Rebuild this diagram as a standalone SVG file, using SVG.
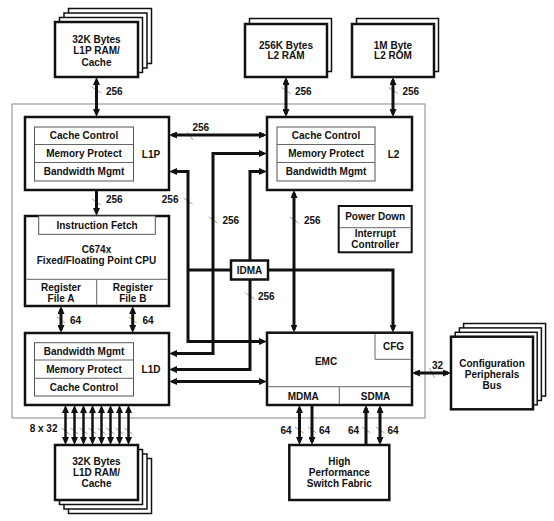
<svg xmlns="http://www.w3.org/2000/svg" width="554" height="521" viewBox="0 0 554 521">
<style>
text{font-family:"Liberation Sans",Arial,sans-serif;font-weight:bold;font-size:10px;fill:#111;}
.c{text-anchor:middle;}
.e{text-anchor:end;}
.blk{fill:#fff;stroke:#111;stroke-width:2.5;}
.bk{fill:#fff;stroke:#111;stroke-width:1.5;}
.tbl{fill:#fff;stroke:#555;stroke-width:1;}
.dv{stroke:#666;stroke-width:1;fill:none;}
.frame{fill:none;stroke:#888;stroke-width:1;}
.w{fill:none;stroke:#111;stroke-width:3;stroke-linejoin:miter;}
.w2{fill:none;stroke:#111;stroke-width:2.5;}
.bi{marker-start:url(#ah);marker-end:url(#ah);}
.one{marker-end:url(#ah);}
.tk{stroke:#888;stroke-width:0.8;}
</style>
<defs>
<marker id="ah" viewBox="0 0 8 7" markerWidth="8" markerHeight="7" refX="5" refY="3.5" markerUnits="userSpaceOnUse" orient="auto-start-reverse">
<path d="M0,0 L8,3.5 L0,7 z" fill="#111"/>
</marker>
</defs>
<rect width="554" height="521" fill="#fff"/>
<rect class="frame" x="12" y="104" width="413" height="314"/>

<g id="ticks">
<line class="tk" x1="92" y1="87" x2="101" y2="93"/>
<line class="tk" x1="281.5" y1="87.5" x2="290.5" y2="93.5"/>
<line class="tk" x1="388.5" y1="87.5" x2="397.5" y2="93.5"/>
<line class="tk" x1="187" y1="132" x2="193" y2="140"/>
<line class="tk" x1="92" y1="199" x2="101" y2="205"/>
<line class="tk" x1="183.5" y1="198" x2="192.5" y2="204"/>
<line class="tk" x1="208.5" y1="217" x2="217.5" y2="223"/>
<line class="tk" x1="289.5" y1="217" x2="298.5" y2="223"/>
<line class="tk" x1="245.5" y1="293" x2="254.5" y2="299"/>
<line class="tk" x1="57" y1="317" x2="65" y2="323"/>
<line class="tk" x1="128.7" y1="317" x2="136.7" y2="323"/>
<line class="tk" x1="61.5" y1="428" x2="69.5" y2="434"/>
<line class="tk" x1="70.5" y1="428" x2="78.5" y2="434"/>
<line class="tk" x1="79.5" y1="428" x2="87.5" y2="434"/>
<line class="tk" x1="88.5" y1="428" x2="96.5" y2="434"/>
<line class="tk" x1="97.5" y1="428" x2="105.5" y2="434"/>
<line class="tk" x1="106.5" y1="428" x2="114.5" y2="434"/>
<line class="tk" x1="115.5" y1="428" x2="123.5" y2="434"/>
<line class="tk" x1="124.5" y1="428" x2="132.5" y2="434"/>
<line class="tk" x1="429.5" y1="368" x2="434.5" y2="378"/>
<line class="tk" x1="295" y1="427" x2="303.5" y2="433"/>
<line class="tk" x1="308" y1="427" x2="316.5" y2="433"/>
<line class="tk" x1="362" y1="427" x2="370.5" y2="433"/>
<line class="tk" x1="376" y1="427" x2="384.5" y2="433"/>
</g>

<g id="connectors">
<path class="w bi" d="M96.5,80 V114"/>
<path class="w bi" d="M286,80 V114"/>
<path class="w bi" d="M393,80 V114"/>
<path class="w bi" d="M172,135 H264"/>
<path class="w one" d="M96.5,190 V213"/>
<path class="w bi" d="M172,171.5 H188 V341.5 H264"/>
<path class="w bi" d="M172,353.5 H213 V153.5 H264"/>
<path class="w bi" d="M172,369.5 H250 V171.5 H264"/>
<path class="w bi" d="M172,381.5 H264"/>
<path class="w bi" d="M294,193 V329.5"/>
<path class="w" d="M188,270 H231"/>
<path class="w one" d="M268,270 H393 V329.5"/>
<path class="w bi" d="M61,309 V330"/>
<path class="w bi" d="M132.7,309 V330"/>
<path class="w2 bi" d="M65.5,408 V442"/>
<path class="w2 bi" d="M74.5,408 V442"/>
<path class="w2 bi" d="M83.5,408 V442"/>
<path class="w2 bi" d="M92.5,408 V442"/>
<path class="w2 bi" d="M101.5,408 V442"/>
<path class="w2 bi" d="M110.5,408 V442"/>
<path class="w2 bi" d="M119.5,408 V442"/>
<path class="w2 bi" d="M128.5,408 V442"/>
<path class="w bi" d="M415,373 H448"/>
<path class="w bi" d="M299.5,408 V442"/>
<path class="w one" d="M312,405 V442"/>
<path class="w one" d="M366,445 V408"/>
<path class="w bi" d="M380,408 V442"/>
</g>

<g id="labels">
<text x="106" y="95">256</text>
<text x="295" y="95">256</text>
<text x="402.5" y="95">256</text>
<text x="192.5" y="131">256</text>
<text x="106" y="203">256</text>
<text class="e" x="178.5" y="203">256</text>
<text x="222.5" y="223.5">256</text>
<text x="304" y="223.5">256</text>
<text x="258" y="299.5">256</text>
<text x="70" y="324">64</text>
<text x="142.5" y="324">64</text>
<text class="e" x="57.5" y="432">8 x 32</text>
<text x="432" y="369">32</text>
<text x="280.5" y="433.5">64</text>
<text x="319" y="433.5">64</text>
<text x="348" y="433.5">64</text>
<text x="387.5" y="433.5">64</text>
</g>

<g id="l1p-ram">
<rect class="bk" x="68.5" y="8.5" width="83" height="55"/>
<rect class="bk" x="64" y="13" width="83" height="55"/>
<rect class="bk" x="59.5" y="17.5" width="83" height="55"/>
<rect class="blk" x="55" y="22" width="83" height="55"/>
<text class="c" x="96.5" y="43">32K Bytes</text>
<text class="c" x="96.5" y="54">L1P RAM/</text>
<text class="c" x="96.5" y="65.5">Cache</text>
</g>

<g id="l2-ram">
<rect class="bk" x="249.5" y="18.5" width="82" height="53"/>
<rect class="blk" x="245" y="24" width="82" height="53"/>
<text class="c" x="286" y="48.5">256K Bytes</text>
<text class="c" x="286" y="59">L2 RAM</text>
</g>

<g id="l2-rom">
<rect class="bk" x="356.5" y="18.5" width="82" height="53"/>
<rect class="blk" x="352" y="24" width="82" height="53"/>
<text class="c" x="393" y="48.5">1M Byte</text>
<text class="c" x="393" y="59">L2 ROM</text>
</g>

<g id="l1p">
<rect class="blk" x="25" y="117" width="144" height="73"/>
<rect class="tbl" x="34.5" y="127" width="99" height="54"/>
<line class="dv" x1="34.5" y1="144.5" x2="133.5" y2="144.5"/>
<line class="dv" x1="34.5" y1="162.5" x2="133.5" y2="162.5"/>
<text class="c" x="84" y="139.3">Cache Control</text>
<text class="c" x="84" y="157">Memory Protect</text>
<text class="c" x="84" y="175.2">Bandwidth Mgmt</text>
<text class="c" x="151" y="157.5">L1P</text>
</g>

<g id="l2">
<rect class="blk" x="267" y="117" width="145" height="73"/>
<rect class="tbl" x="277" y="127" width="98" height="54"/>
<line class="dv" x1="277" y1="144.5" x2="375" y2="144.5"/>
<line class="dv" x1="277" y1="162.5" x2="375" y2="162.5"/>
<text class="c" x="326" y="139.3">Cache Control</text>
<text class="c" x="326" y="157">Memory Protect</text>
<text class="c" x="326" y="175.2">Bandwidth Mgmt</text>
<text class="c" x="393.5" y="157.5">L2</text>
</g>

<g id="cpu">
<rect class="blk" x="25" y="216" width="144" height="90"/>
<rect class="tbl" x="38.7" y="216" width="116.6" height="18.3"/>
<text class="c" x="97" y="229.2">Instruction Fetch</text>
<text class="c" x="96.5" y="253">C674x</text>
<text class="c" x="96.5" y="264.2">Fixed/Floating Point CPU</text>
<line class="dv" x1="26.3" y1="279.3" x2="167.7" y2="279.3"/>
<line class="dv" x1="96.7" y1="279.3" x2="96.7" y2="304.7"/>
<text class="c" x="61" y="291.2">Register</text>
<text class="c" x="61" y="301.8">File A</text>
<text class="c" x="132.8" y="291.2">Register</text>
<text class="c" x="132.8" y="301.8">File B</text>
</g>

<g id="idma">
<rect class="blk" x="231" y="260.5" width="37" height="19"/>
<text class="c" x="249.5" y="273.5">IDMA</text>
</g>

<g id="power-down">
<rect fill="#fff" stroke="#111" stroke-width="2" x="338.7" y="206" width="73" height="46.3"/>
<line class="dv" x1="339.7" y1="227.7" x2="410.7" y2="227.7"/>
<text class="c" x="375.2" y="220.2">Power Down</text>
<text class="c" x="375.2" y="236.8">Interrupt</text>
<text class="c" x="375.2" y="247.5">Controller</text>
</g>

<g id="l1d">
<rect class="blk" x="25" y="333" width="144" height="72"/>
<rect class="tbl" x="34.5" y="342.7" width="99" height="53.3"/>
<line class="dv" x1="34.5" y1="360" x2="133.5" y2="360"/>
<line class="dv" x1="34.5" y1="378.3" x2="133.5" y2="378.3"/>
<text class="c" x="84" y="354.5">Bandwidth Mgmt</text>
<text class="c" x="84" y="372.8">Memory Protect</text>
<text class="c" x="84" y="391.2">Cache Control</text>
<text class="c" x="151" y="372.8">L1D</text>
</g>

<g id="emc">
<rect class="blk" x="267" y="332.7" width="145" height="72.3"/>
<polyline class="dv" points="375,334 375,359.3 410.8,359.3"/>
<line class="dv" x1="268.3" y1="386.7" x2="410.8" y2="386.7"/>
<line class="dv" x1="339.3" y1="386.7" x2="339.3" y2="403.8"/>
<text class="c" x="393.5" y="350.2">CFG</text>
<text class="c" x="326" y="364.5">EMC</text>
<text class="c" x="303.3" y="400.2">MDMA</text>
<text class="c" x="375.5" y="400.2">SDMA</text>
</g>

<g id="config-bus">
<rect class="bk" x="463.6" y="323.5" width="82" height="72.6"/>
<rect class="bk" x="459.4" y="327.9" width="82" height="72.6"/>
<rect class="bk" x="455.2" y="332.3" width="82" height="72.6"/>
<rect class="blk" x="451" y="336.7" width="82" height="72.6"/>
<text class="c" x="492" y="366.8">Configuration</text>
<text class="c" x="492" y="378">Peripherals</text>
<text class="c" x="492" y="388.8">Bus</text>
</g>

<g id="l1d-ram">
<rect class="bk" x="68.5" y="458.5" width="83" height="55"/>
<rect class="bk" x="64" y="454" width="83" height="55"/>
<rect class="bk" x="59.5" y="449.5" width="83" height="55"/>
<rect class="blk" x="55" y="445" width="83" height="55"/>
<text class="c" x="96.5" y="465.2">32K Bytes</text>
<text class="c" x="96.5" y="476.2">L1D RAM/</text>
<text class="c" x="96.5" y="487.2">Cache</text>
</g>

<g id="switch-fabric">
<rect class="blk" x="289.3" y="445" width="100" height="55"/>
<text class="c" x="339.3" y="465.2">High</text>
<text class="c" x="339.3" y="476.2">Performance</text>
<text class="c" x="339.3" y="487.2">Switch Fabric</text>
</g>
</svg>
